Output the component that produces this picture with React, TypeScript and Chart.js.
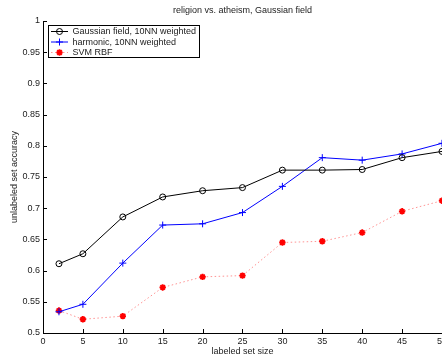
import React, { useEffect, useRef } from "react";
import { Chart, registerables } from "chart.js";

Chart.register(...registerables);

const labeledSizes = [2, 5, 10, 15, 20, 25, 30, 35, 40, 45, 50];
const gaussianField = [0.611, 0.627, 0.686, 0.718, 0.728, 0.733, 0.761, 0.761, 0.762, 0.781, 0.791];
const harmonic = [0.534, 0.546, 0.612, 0.673, 0.675, 0.693, 0.735, 0.781, 0.777, 0.787, 0.804];
const svmRbf = [0.536, 0.522, 0.527, 0.573, 0.59, 0.592, 0.645, 0.647, 0.661, 0.695, 0.712];

const seriesNames = ["Gaussian field, 10NN weighted", "harmonic, 10NN weighted", "SVM RBF"];
const titleText = "religion vs. atheism, Gaussian field";
const xTitle = "labeled set size";
const yTitle = "unlabeled set accuracy";
const xTicks = [0, 5, 10, 15, 20, 25, 30, 35, 40, 45, 50];
const yTicks = [0.5, 0.55, 0.6, 0.65, 0.7, 0.75, 0.8, 0.85, 0.9, 0.95, 1];

const FONT = "'Liberation Sans', Arial, Helvetica, sans-serif";
const TEXT = "#222";

function drawMarker(ctx: CanvasRenderingContext2D, kind: string, x: number, y: number, color: string) {
  ctx.save();
  ctx.strokeStyle = color;
  ctx.fillStyle = color;
  ctx.setLineDash([]);
  if (kind === "circle") {
    ctx.lineWidth = 1;
    ctx.beginPath();
    ctx.arc(x, y, 3, 0, Math.PI * 2);
    ctx.stroke();
  } else if (kind === "cross") {
    ctx.lineWidth = 1;
    ctx.beginPath();
    ctx.moveTo(x - 3.5, y);
    ctx.lineTo(x + 3.5, y);
    ctx.moveTo(x, y - 3.5);
    ctx.lineTo(x, y + 3.5);
    ctx.stroke();
  } else {
    ctx.lineWidth = 1.8;
    ctx.beginPath();
    for (let i = 0; i < 4; i++) {
      const a = (i * Math.PI) / 4;
      ctx.moveTo(x - 3.2 * Math.cos(a), y - 3.2 * Math.sin(a));
      ctx.lineTo(x + 3.2 * Math.cos(a), y + 3.2 * Math.sin(a));
    }
    ctx.stroke();
  }
  ctx.restore();
}

const decorPlugin = {
  id: "decor",
  afterDraw(chart: any) {
    const ctx: CanvasRenderingContext2D = chart.ctx;
    const { left, right, top, bottom } = chart.chartArea;
    const xs = chart.scales.x;
    const ys = chart.scales.y;
    ctx.save();
    // axes lines
    ctx.strokeStyle = "#000";
    ctx.lineWidth = 1;
    ctx.setLineDash([]);
    ctx.beginPath();
    ctx.moveTo(Math.round(left) + 0.5, top);
    ctx.lineTo(Math.round(left) + 0.5, Math.round(bottom) + 0.5);
    ctx.lineTo(right, Math.round(bottom) + 0.5);
    ctx.stroke();
    // inward ticks
    ctx.beginPath();
    xTicks.forEach((v) => {
      const px = Math.round(xs.getPixelForValue(v)) + 0.5;
      ctx.moveTo(px, bottom);
      ctx.lineTo(px, bottom - 4);
    });
    yTicks.forEach((v) => {
      const py = Math.round(ys.getPixelForValue(v)) + 0.5;
      ctx.moveTo(left, py);
      ctx.lineTo(left + 4, py);
    });
    ctx.stroke();

    // titles
    ctx.fillStyle = TEXT;
    ctx.font = `9px ${FONT}`;
    ctx.textAlign = "center";
    ctx.textBaseline = "middle";
    ctx.fillText(titleText, (left + right) / 2, 11);
    ctx.fillText(xTitle, (left + right) / 2, 352);
    ctx.save();
    ctx.translate(15, (top + bottom) / 2);
    ctx.rotate(-Math.PI / 2);
    ctx.fillText(yTitle, 0, 0);
    ctx.restore();

    // legend
    const bx = 48.5, by = 25.5, bw = 151, bh = 32;
    ctx.fillStyle = "#fff";
    ctx.fillRect(bx, by, bw, bh);
    ctx.strokeStyle = "#000";
    ctx.lineWidth = 1;
    ctx.strokeRect(bx, by, bw, bh);
    const rowsY = [31.5, 42, 52.5];
    const kinds = ["circle", "cross", "star"];
    const lineColors = ["#000", "#0000ff", "rgba(255,60,60,0.55)"];
    const markColors = ["#000", "#0000ff", "#ff0000"];
    seriesNames.forEach((name, i) => {
      const y = rowsY[i];
      ctx.save();
      ctx.strokeStyle = lineColors[i];
      ctx.lineWidth = 1;
      ctx.setLineDash(i === 2 ? [1.5, 2.5] : []);
      ctx.beginPath();
      ctx.moveTo(51, y);
      ctx.lineTo(68, y);
      ctx.stroke();
      ctx.restore();
      drawMarker(ctx, kinds[i], 59.5, y, markColors[i]);
      ctx.fillStyle = TEXT;
      ctx.textAlign = "left";
      ctx.textBaseline = "middle";
      ctx.font = `9px ${FONT}`;
      ctx.fillText(name, 72.5, y + 0.5);
    });
    ctx.restore();
  },
};

export default function App() {
  const ref = useRef<HTMLCanvasElement | null>(null);
  useEffect(() => {
    if (!ref.current) return;
    document.body.style.margin = "0";
    const toPts = (arr: number[]) => arr.map((y, i) => ({ x: labeledSizes[i], y }));
    const chart = new Chart(ref.current, {
      type: "line",
      data: {
        datasets: [
          {
            label: seriesNames[0],
            data: toPts(gaussianField),
            borderColor: "#000",
            borderWidth: 1,
            pointStyle: "circle",
            pointRadius: 3,
            pointBorderWidth: 1,
            pointBorderColor: "#000",
            pointBackgroundColor: "rgba(0,0,0,0)",
            tension: 0,
          },
          {
            label: seriesNames[1],
            data: toPts(harmonic),
            borderColor: "#0000ff",
            borderWidth: 1,
            pointStyle: "cross",
            pointRadius: 3.5,
            pointBorderWidth: 1,
            pointBorderColor: "#0000ff",
            pointBackgroundColor: "#0000ff",
            tension: 0,
          },
          {
            label: seriesNames[2],
            data: toPts(svmRbf),
            borderColor: "rgba(255,60,60,0.55)",
            borderWidth: 1,
            borderDash: [1.5, 2.5],
            pointStyle: "star",
            pointRadius: 3.2,
            pointBorderWidth: 1.8,
            pointBorderColor: "#ff0000",
            pointBackgroundColor: "#ff0000",
            tension: 0,
          },
        ],
      } as any,
      options: {
        animation: false,
        responsive: false,
        devicePixelRatio: 1,
        layout: { padding: { top: 21, right: 7, left: 0, bottom: 0 } },
        plugins: { legend: { display: false }, tooltip: { enabled: false }, title: { display: false } },
        scales: {
          x: {
            type: "linear",
            min: 0,
            max: 50,
            afterBuildTicks: (s: any) => {
              s.ticks = xTicks.map((v) => ({ value: v }));
            },
            afterFit: (s: any) => {
              s.height = 29;
            },
            grid: { display: false, drawTicks: false },
            border: { display: false },
            ticks: { padding: 3, color: TEXT, font: { family: FONT, size: 9 }, maxRotation: 0, autoSkip: false },
          },
          y: {
            type: "linear",
            min: 0.5,
            max: 1,
            afterBuildTicks: (s: any) => {
              s.ticks = yTicks.map((v) => ({ value: v }));
            },
            afterFit: (s: any) => {
              s.width = 43;
            },
            grid: { display: false, drawTicks: false },
            border: { display: false },
            ticks: {
              padding: 3,
              color: TEXT,
              font: { family: FONT, size: 9 },
              autoSkip: false,
              callback: (v: any) => String(Number(Number(v).toFixed(2))),
            },
          },
        },
      } as any,
      plugins: [decorPlugin],
    });
    return () => chart.destroy();
  }, []);
  return (
    <div style={{ position: "fixed", left: 0, top: 0, width: 442, height: 362, overflow: "hidden", background: "#fff" }}>
      <canvas ref={ref} width={450} height={362} style={{ width: 450, height: 362, display: "block" }} />
    </div>
  );
}
